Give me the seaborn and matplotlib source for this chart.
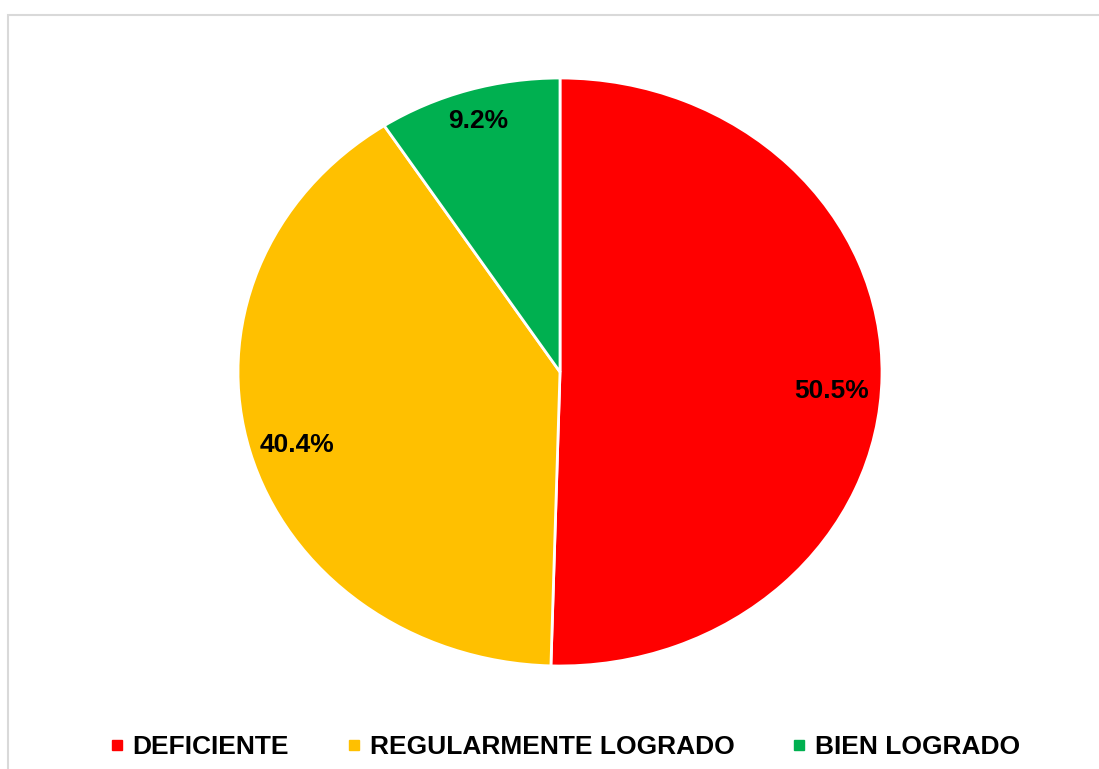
import matplotlib
matplotlib.use("Agg")
import numpy as np
import matplotlib.pyplot as plt
import seaborn as sns
from matplotlib.patches import Rectangle
from matplotlib.lines import Line2D

categories = ["DEFICIENTE", "REGULARMENTE LOGRADO", "BIEN LOGRADO"]
percentages = [50.5, 40.4, 9.2]
colors = ["#ff0000", "#ffc000", "#00b050"]

sns.set_theme(style="white")
plt.rcParams["font.family"] = ["Liberation Sans", "DejaVu Sans"]
plt.rcParams["text.color"] = "black"

W, H = 1099, 769
fig = plt.figure(figsize=(W / 100, H / 100), dpi=100)

# light gray chart frame (runs off right and bottom edges)
fig.patches.append(Rectangle((8 / W, -0.1), 1.2, 1 - 15 / H + 0.1,
                             transform=fig.transFigure, fill=False,
                             edgecolor="#d9d9d9", linewidth=1.5, clip_on=False))

# pie is stretched into an ellipse, so axes fill its box
ax = fig.add_axes([238 / W, (H - 666) / H, 644 / W, 588 / H])
wedges, texts, autotexts = ax.pie(
    percentages, colors=colors, startangle=90, counterclock=False,
    autopct="%.1f%%", pctdistance=0.85,
    wedgeprops=dict(edgecolor="white", linewidth=2),
)
# label placement: distance from centre and small angle nudge (degrees)
label_dist = [0.845, 0.855, 0.89]
label_nudge = [-3.5, 1.2, 0.0]
for w, t, p, d, n in zip(wedges, autotexts, percentages, label_dist, label_nudge):
    ang = np.deg2rad((w.theta1 + w.theta2) / 2 + n)
    t.set_position((d * np.cos(ang), d * np.sin(ang)))
    t.set_text(f"{p:.1f}%")
    t.set_fontsize(19)
    t.set_fontweight("bold")
    t.set_color("black")
ax.set_aspect("auto")
ax.set_xlim(-1.0, 1.0)
ax.set_ylim(-1.0, 1.0)

handles = [Line2D([0], [0], marker="s", linestyle="none", markersize=7,
                  markerfacecolor=c, markeredgecolor=c) for c in colors]
fig.legend(handles, categories, loc="center", ncol=3,
           bbox_to_anchor=(565 / W, 1 - 747 / H), frameon=False,
           prop=dict(size=19, weight="bold"), labelcolor="black",
           handlelength=0.5, handletextpad=0.35, columnspacing=2.2)

plt.savefig("out.png", dpi=100, facecolor="white")
plt.close()
